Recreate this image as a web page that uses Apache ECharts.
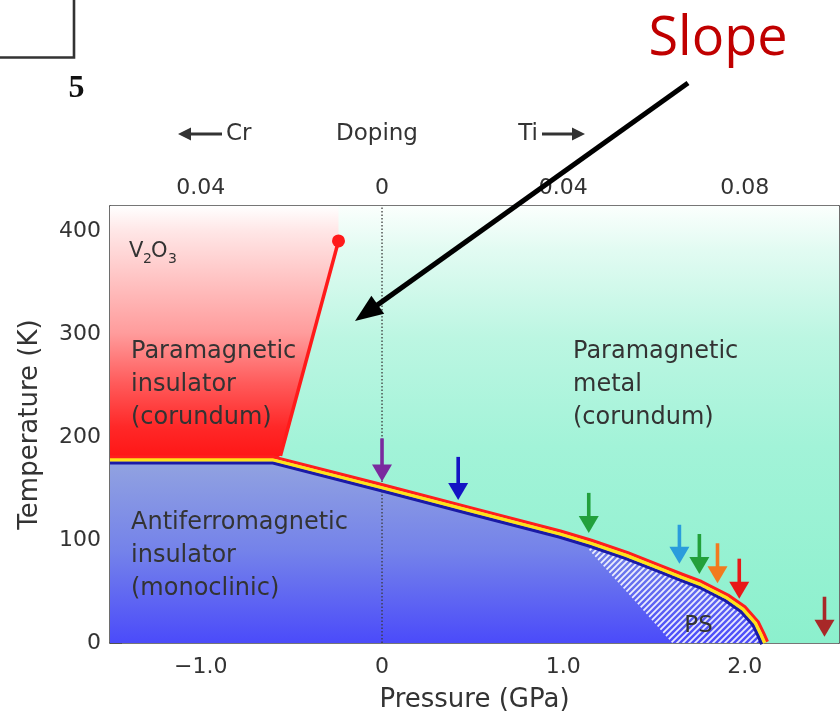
<!DOCTYPE html>
<html>
<head>
<meta charset="utf-8">
<script src="https://cdn.jsdelivr.net/npm/echarts@6/dist/echarts.min.js"></script>
<style>
  html, body { margin: 0; padding: 0; background: #fff; }
  #chart { width: 840px; height: 718px; }
</style>
</head>
<body>
<div id="chart"></div>
<script>
// Axis ranges
const P_MIN = -1.5, P_MAX = 2.52;   // pressure, GPa
const T_MAX = 425;                  // temperature, K

// Tick values and labels
const pressureTicks = [-1, 0, 1, 2];
const pressureLabels = ['\u22121.0', '0', '1.0', '2.0'];
const dopingTicks = [-1, 0, 1, 2];            // doping marks at equivalent pressure
const dopingLabels = ['0.04', '0', '0.04', '0.08'];
const tempTicks = [0, 100, 200, 300, 400];
const tempTicksRight = [100, 200, 300, 400];

// Antiferromagnetic insulator boundary [P (GPa), T (K)]
const afiBoundary = [
  [-1.5, 178], [-0.6, 178], [0, 151], [0.5, 128], [0.98, 106], [1.15, 97],
  [1.35, 85], [1.53, 72.5], [1.65, 64], [1.755, 57], [1.9, 44], [1.99, 33],
  [2.06, 19], [2.09, 8], [2.11, 0]
];
// Paramagnetic insulator / metal first-order line and its end point
const pmiLine = [[-0.56, 182], [-0.24, 391]];
const criticalPoint = [-0.24, 391];
// Left edge of the phase-separated (PS) region
const psEdge = [[1.14, 91], [1.26, 67], [1.42, 36], [1.6, 0]];

// Measurement paths (arrows): pressure, start T, end T
const arrowP   = [0, 0.42, 1.14, 1.64, 1.75, 1.85, 1.97, 2.44];
const arrowTop = [199, 181, 146, 115, 106, 97, 82, 45];
const arrowTip = [157, 139, 107, 77, 67, 58, 43, 6];
const arrowColors = ['#7a2a9e', '#1414c4', '#22a03c', '#2a9cdc', '#22a03a', '#f27a1e', '#e81818', '#a82828'];

const FONT = 'DejaVu Sans';
const TEXT = '#333333';

// Diagonal hatch used for the PS region
const hatch = document.createElement('canvas');
hatch.width = hatch.height = 6;
(function () {
  const g = hatch.getContext('2d');
  g.strokeStyle = 'rgba(255,255,255,0.88)';
  g.lineWidth = 1.8;
  g.beginPath();
  for (let k = -6; k <= 6; k += 6) { g.moveTo(k - 1, 7); g.lineTo(k + 7, -1); }
  g.stroke();
})();

function grad(stops) {
  return new echarts.graphic.LinearGradient(0, 0, 0, 1,
    stops.map(s => ({ offset: s[0], color: s[1] })));
}

// Offset a pixel polyline along its normals (positive = up/right)
function offsetLine(pts, d) {
  return pts.map((p, i) => {
    const a = pts[Math.max(i - 1, 0)], b = pts[Math.min(i + 1, pts.length - 1)];
    let tx = b[0] - a[0], ty = b[1] - a[1];
    const len = Math.hypot(tx, ty) || 1;
    tx /= len; ty /= len;
    return [p[0] + ty * d, p[1] - tx * d];
  });
}

function renderPhases(params, api) {
  const cs = params.coordSys;
  const px = d => api.coord(d);
  const children = [];

  // metallic background
  children.push({
    type: 'rect', shape: { x: cs.x, y: cs.y, width: cs.width, height: cs.height },
    style: { fill: grad([[0, '#fbfffd'], [0.1, '#e2fbf2'], [0.3, '#bcf6e2'], [0.55, '#a2f3d8'], [1, '#8cf0cd']]) }
  });
  // paramagnetic insulator
  const red = [[P_MIN, T_MAX], [criticalPoint[0], T_MAX], criticalPoint, pmiLine[0], afiBoundary[1], afiBoundary[0]];
  children.push({
    type: 'polygon', shape: { points: red.map(px) },
    style: { fill: grad([[0, '#ffffff'], [0.1, '#ffe6e6'], [0.5, '#ff9c9c'], [0.7, '#ff5a5a'], [0.87, '#ff2828'], [1, '#ff1414']]) }
  });
  // antiferromagnetic insulator
  const blue = afiBoundary.concat([[P_MIN, 0]]);
  children.push({
    type: 'polygon', shape: { points: blue.map(px) },
    style: { fill: grad([[0, '#92a3e0'], [0.5, '#7482ea'], [1, '#4b4bfa']]) }
  });
  // phase separation hatch
  const startP = psEdge[0][0];
  const upper = afiBoundary.filter(d => d[0] > startP).reverse();
  const ps = psEdge.concat(upper);
  children.push({
    type: 'polygon', shape: { points: ps.map(px) },
    style: { fill: { image: hatch, repeat: 'repeat' } }
  });
  return { type: 'group', children };
}

function renderBoundary(params, api) {
  const pts = afiBoundary.map(d => api.coord(d));
  const mk = (d, c) => ({
    type: 'polyline', shape: { points: offsetLine(pts, d) },
    style: { stroke: c, lineWidth: 3.3, fill: null, lineJoin: 'round' }
  });
  return { type: 'group', children: [mk(-3, '#1a1aa6'), mk(3, '#ff1e1e'), mk(0, '#ffe21a')] };
}

function renderArrow(params, api) {
  const c = arrowColors[params.dataIndex];
  const top = api.coord([api.value(0), api.value(1)]);
  const tip = api.coord([api.value(0), api.value(2)]);
  const head = 17, half = 10;
  return {
    type: 'group', children: [
      { type: 'line', shape: { x1: top[0], y1: top[1], x2: tip[0], y2: tip[1] - head + 2 },
        style: { stroke: c, lineWidth: 3.6 } },
      { type: 'polygon', shape: { points: [[tip[0] - half, tip[1] - head], [tip[0] + half, tip[1] - head], [tip[0], tip[1]]] },
        style: { fill: c } }
    ]
  };
}

// Arrow made of a shaft and a filled head, in pixels
function arrowShape(x1, y1, x2, y2, w, headLen, headHalf, color) {
  const len = Math.hypot(x2 - x1, y2 - y1);
  const ux = (x2 - x1) / len, uy = (y2 - y1) / len;
  const bx = x2 - ux * headLen, by = y2 - uy * headLen;
  const nx = -uy, ny = ux;
  return [
    { type: 'line', z: 100, shape: { x1, y1, x2: bx + ux * 2, y2: by + uy * 2 }, style: { stroke: color, lineWidth: w } },
    { type: 'polygon', z: 100, shape: { points: [[x2, y2], [bx + nx * headHalf, by + ny * headHalf], [bx - nx * headHalf, by - ny * headHalf]] },
      style: { fill: color } }
  ];
}

function label(text, x, y, size, opts) {
  return {
    type: 'text', x, y, z: 100,
    style: Object.assign({ text, fontSize: size, fontFamily: FONT, fill: TEXT, align: 'left', verticalAlign: 'middle' }, opts || {})
  };
}

const axisLineStyle = { color: '#4a4a4a', width: 1.6 };
const tickStyle = { color: '#4a4a4a', width: 1.6 };

const chart = echarts.init(document.getElementById('chart'));
chart.setOption({
  animation: false,
  backgroundColor: '#ffffff',
  textStyle: { fontFamily: FONT },
  grid: { left: 110, right: 1, top: 206, bottom: 72, containLabel: false },
  xAxis: [
    {
      type: 'value', position: 'bottom', min: P_MIN, max: P_MAX,
      name: 'Pressure (GPa)', nameLocation: 'middle', nameGap: 44,
      nameTextStyle: { fontSize: 26, color: TEXT, fontFamily: FONT },
      axisLine: { show: true, onZero: false, lineStyle: axisLineStyle },
      axisTick: { show: true, inside: true, length: 12, customValues: pressureTicks, lineStyle: tickStyle },
      axisLabel: { customValues: pressureTicks, margin: 13, fontSize: 22, color: TEXT, fontFamily: FONT,
        formatter: v => pressureLabels[pressureTicks.indexOf(v)] },
      splitLine: { show: false }
    },
    {
      type: 'value', position: 'top', min: P_MIN, max: P_MAX,
      axisLine: { show: true, onZero: false, lineStyle: axisLineStyle },
      axisTick: { show: true, inside: true, length: 12, customValues: dopingTicks, lineStyle: tickStyle },
      axisLabel: { customValues: dopingTicks, margin: 7, fontSize: 22, color: TEXT, fontFamily: FONT,
        formatter: v => dopingLabels[dopingTicks.indexOf(v)] },
      splitLine: { show: false }
    }
  ],
  yAxis: [
    {
      type: 'value', position: 'left', min: 0, max: T_MAX,
      name: 'Temperature (K)', nameLocation: 'middle', nameGap: 67, nameRotate: 90,
      nameTextStyle: { fontSize: 26, color: TEXT, fontFamily: FONT },
      axisLine: { show: true, onZero: false, lineStyle: axisLineStyle },
      axisTick: { show: true, inside: true, length: 12, customValues: tempTicks, lineStyle: tickStyle },
      axisLabel: { customValues: tempTicks, margin: 9, fontSize: 22, color: TEXT, fontFamily: FONT },
      splitLine: { show: false }
    },
    {
      type: 'value', position: 'right', min: 0, max: T_MAX,
      axisLine: { show: true, onZero: false, lineStyle: axisLineStyle },
      axisTick: { show: true, inside: true, length: 12, customValues: tempTicksRight, lineStyle: tickStyle },
      axisLabel: { show: false },
      splitLine: { show: false }
    }
  ],
  series: [
    { type: 'custom', name: 'phases', z: 1, silent: true, data: [[0, 0]], renderItem: renderPhases },
    { type: 'line', name: 'ambient', z: 2, silent: true, symbol: 'none',
      data: [[0, 0], [0, T_MAX]], lineStyle: { color: '#3a3a3a', width: 1.3, type: [1.5, 2] } },
    { type: 'line', name: 'PI-PM', z: 3, silent: true, symbol: 'none',
      data: pmiLine, lineStyle: { color: '#ff1a1a', width: 3.5 } },
    { type: 'custom', name: 'AFI boundary', z: 4, silent: true, data: [[0, 0]], renderItem: renderBoundary },
    { type: 'scatter', name: 'critical point', z: 5, silent: true, symbolSize: 13,
      data: [criticalPoint], itemStyle: { color: '#ff1a1a', opacity: 1 } },
    { type: 'custom', name: 'paths', z: 6, silent: true,
      data: arrowP.map((p, i) => [p, arrowTop[i], arrowTip[i]]),
      encode: { x: 0, y: [1, 2] }, renderItem: renderArrow }
  ],
  graphic: [
    // panel frame corner and panel number
    { type: 'polyline', z: 100, shape: { points: [[0, 57.5], [74, 57.5], [74, 0]] }, style: { stroke: '#333', lineWidth: 2.6, fill: null } },
    { type: 'text', x: 76.5, y: 88.5, z: 100, style: { text: '5', fontSize: 32, fontWeight: 'bold', fontFamily: 'Liberation Serif', fill: '#111', align: 'center', verticalAlign: 'middle' } },
    // slope callout
    { type: 'text', x: 718, y: 40, z: 100, style: { text: 'Slope', fontSize: 54, fontFamily: 'Open Sans', fill: '#c00000', align: 'center', verticalAlign: 'middle' } },
    ...arrowShape(688, 83, 355, 321, 5, 28, 11, '#000000'),
    // doping header
    ...arrowShape(222, 134, 178, 134, 3, 13, 6.5, TEXT),
    label('Cr', 226, 134, 23),
    label('Doping', 377, 134, 23, { align: 'center' }),
    label('Ti', 538, 134, 23, { align: 'right' }),
    ...arrowShape(542, 134, 585, 134, 3, 13, 6.5, TEXT),
    // compound name
    label('V', 129, 251.5, 21),
    label('2', 143, 259, 14),
    label('O', 151, 251.5, 21),
    label('3', 168, 259, 14),
    // phase names
    label('Paramagnetic\ninsulator\n(corundum)', 131, 335, 24, { verticalAlign: 'top', lineHeight: 33 }),
    label('Paramagnetic\nmetal\n(corundum)', 573, 335, 24, { verticalAlign: 'top', lineHeight: 33 }),
    label('Antiferromagnetic\ninsulator\n(monoclinic)', 131, 506.5, 24, { verticalAlign: 'top', lineHeight: 33 }),
    label('PS', 698.5, 626, 23, { align: 'center' })
  ]
});
</script>
</body>
</html>
